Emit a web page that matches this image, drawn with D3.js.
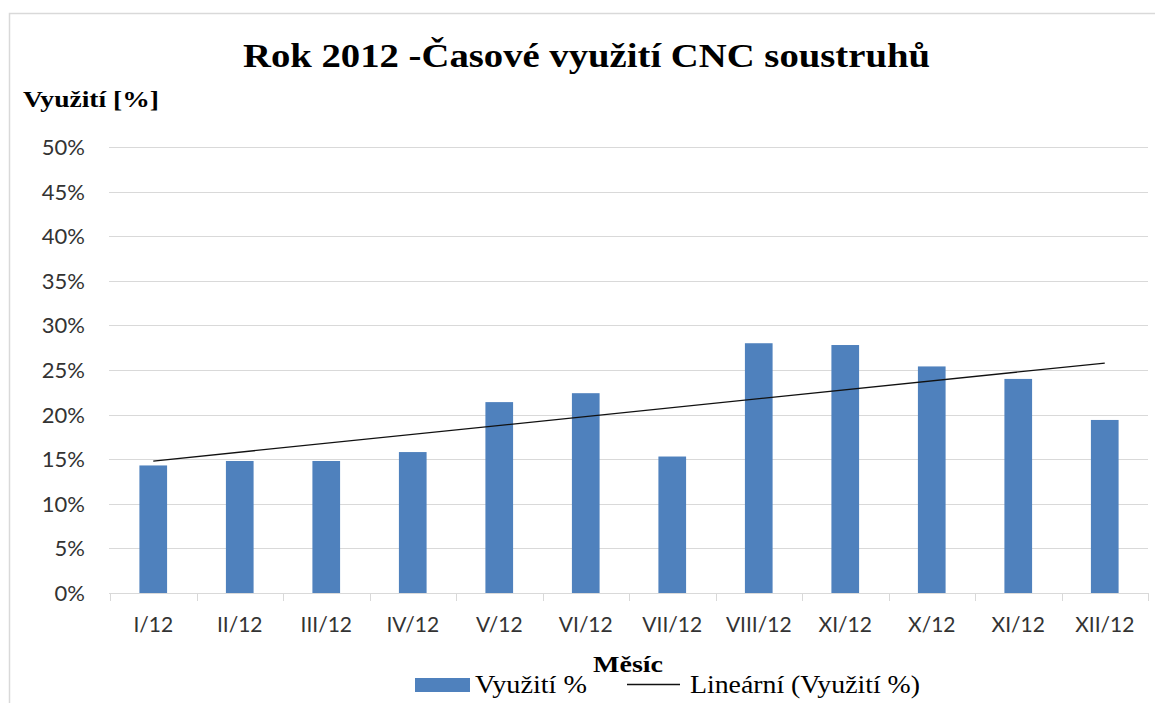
<!DOCTYPE html>
<html><head><meta charset="utf-8">
<script src="https://cdn.jsdelivr.net/npm/d3@7"></script>
<style>body{margin:0;background:#fff}svg{display:block}</style>
</head><body>
<svg id="c" width="1155" height="703"></svg>
<script>
const categories = ["I/12","II/12","III/12","IV/12","V/12","VI/12","VII/12","VIII/12","XI/12","X/12","XI/12","XII/12"];
const values = [14.3, 14.8, 14.8, 15.8, 21.4, 22.4, 15.3, 28.0, 27.8, 25.4, 24.0, 19.4];
const yTicks = [0,5,10,15,20,25,30,35,40,45,50];
const titleText = "Rok 2012 -Časové využití CNC soustruhů";
const yTitle = "Využití [%]";
const xTitle = "Měsíc";
const legendLabels = ["Využití %", "Lineární (Využití %)"];

const svg = d3.select("#c");
const serif = "'Liberation Serif','Times New Roman',serif";
const sans = "Lato,'Open Sans',sans-serif";
const L = 110, R = 1148, T = 147, B = 593;

svg.append("rect").attr("x",9.5).attr("y",13.5).attr("width",1160).attr("height",700)
  .attr("fill","#fff").attr("stroke","#d9d9d9").attr("stroke-width",1.5);

const idx = categories.map((d,i)=>i);
const x = d3.scaleBand().domain(idx).range([L,R]).paddingInner(0.68).paddingOuter(0.34);
const xb = d3.scaleBand().domain(idx).range([L,R]);
const y = d3.scaleLinear().domain([0,50]).range([B,T]);

// gridlines
svg.append("g").selectAll("line").data(yTicks.filter(t=>t>0)).join("line")
  .attr("x1",L-1).attr("x2",R).attr("y1",d=>Math.round(y(d))+0.5).attr("y2",d=>Math.round(y(d))+0.5)
  .attr("stroke","#d9d9d9").attr("stroke-width",1);

// y tick labels
svg.append("g").selectAll("text").data(yTicks).join("text")
  .attr("x",85).attr("y",d=>y(d)).attr("dy","0.36em").attr("text-anchor","end")
  .attr("font-family",sans).attr("font-size",22).attr("fill","#333").text(d=>d+"%");

// bars
svg.append("g").selectAll("rect").data(values).join("rect")
  .attr("x",(d,i)=>x(i)).attr("width",x.bandwidth())
  .attr("y",d=>y(d)).attr("height",d=>y(0)-y(d))
  .attr("fill","#4f81bd");

// x axis
const xAxis = d3.axisBottom(xb).tickSize(0).tickFormat(i=>categories[i]);
const gx = svg.append("g").attr("transform",`translate(0,${B})`).call(xAxis);
gx.select(".domain").attr("stroke","#d9d9d9").attr("d",`M${L-1},0.5H${R}`);
gx.selectAll("text").attr("font-family",sans).attr("font-size",21).attr("fill","#333")
  .attr("y",39).attr("dy",0);
// tick marks at band boundaries
svg.append("g").selectAll("line").data(d3.range(13)).join("line")
  .attr("x1",i=>Math.round(L+i*xb.step())+0.5).attr("x2",i=>Math.round(L+i*xb.step())+0.5)
  .attr("y1",B).attr("y2",B+8).attr("stroke","#d9d9d9");

// linear trend
const n = values.length;
const mx = d3.mean(idx), my = d3.mean(values);
const slope = d3.sum(idx,(i)=>(i-mx)*(values[i]-my))/d3.sum(idx,i=>(i-mx)*(i-mx));
const icpt = my - slope*mx;
const trend = [0,n-1].map(i=>[xb(i)+xb.bandwidth()/2, y(icpt+slope*i)]);
svg.append("path").attr("d",d3.line()(trend)).attr("stroke","#111").attr("stroke-width",1.3).attr("fill","none");

// titles
function stxt(xp, yp, txt, size, len, bold){
  return svg.append("text").attr("x",xp).attr("y",yp)
    .attr("font-family",serif).attr("font-weight",bold?"bold":"normal").attr("font-size",size)
    .attr("textLength",len).attr("lengthAdjust","spacingAndGlyphs").attr("fill","#000").text(txt);
}
stxt(243, 67, titleText, 33, 687, true);
stxt(23, 107, yTitle, 24, 136, true);
stxt(593, 672, xTitle, 24, 70, true);

// legend
svg.append("rect").attr("x",415).attr("y",678).attr("width",55).attr("height",14).attr("fill","#4f81bd");
stxt(475, 693, legendLabels[0], 26, 112, false);
svg.append("line").attr("x1",627).attr("x2",680).attr("y1",684.5).attr("y2",684.5).attr("stroke","#111").attr("stroke-width",1.3);
stxt(690, 693, legendLabels[1], 26, 230, false);
</script>
</body></html>
